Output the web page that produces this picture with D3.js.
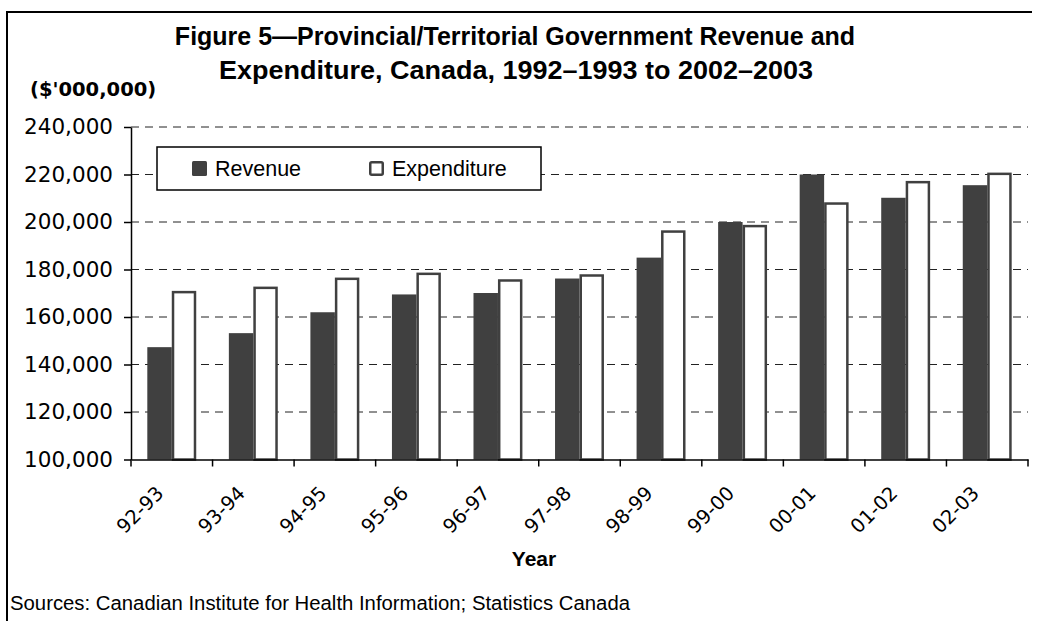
<!DOCTYPE html>
<html>
<head>
<meta charset="utf-8">
<script src="https://cdn.jsdelivr.net/npm/d3@7"></script>
<style>
  html, body { margin: 0; padding: 0; background: #fff; }
  svg { display: block; }
</style>
</head>
<body>
<script>
const categories = ["92-93", "93-94", "94-95", "95-96", "96-97", "97-98", "98-99", "99-00", "00-01", "01-02", "02-03"];
const seriesNames = ["Revenue", "Expenditure"];
const revenue = [147300, 153200, 162000, 169500, 170100, 176200, 185000, 200000, 220000, 210200, 215500];
const expenditure = [171000, 172800, 176600, 178700, 175900, 178000, 196500, 198800, 208300, 217300, 220800];
const yTicks = [100000, 120000, 140000, 160000, 180000, 200000, 220000, 240000];
const titleLines = ["Figure 5\u2014Provincial/Territorial Government Revenue and", "Expenditure, Canada, 1992\u20131993 to 2002\u20132003"];
const unitLabel = "($'000,000)";
const xTitle = "Year";
const sourceText = "Sources: Canadian Institute for Health Information; Statistics Canada";

(function () {
const W = 1037, H = 621;
const pLeft = 131, pRight = 1028, pTop = 127, pBottom = 459.5;
const dark = "#404040";

const svg = d3.select("body").append("svg").attr("width", W).attr("height", H);

// frame
svg.append("path").attr("d", `M7,${H} L7,12 L1032,12`).attr("fill", "none").attr("stroke", "#000").attr("stroke-width", 2);

const x0 = d3.scaleBand().domain(categories).range([pLeft, pRight]).paddingInner(0.4).paddingOuter(0.2);
const x1 = d3.scaleBand().domain(seriesNames).range([0, x0.bandwidth()]);
const y = d3.scaleLinear().domain([100000, 240000]).range([pBottom, pTop]);

// gridlines
svg.append("g").selectAll("line").data(yTicks.filter(d => d !== 100000)).join("line")
  .attr("x1", pLeft).attr("x2", pRight)
  .attr("y1", d => y(d)).attr("y2", d => y(d))
  .attr("stroke", "#222").attr("stroke-width", 1).attr("stroke-dasharray", "8,6");

// bars
const data = categories.map((c, i) => ({ c, values: [{ k: "Revenue", v: revenue[i] }, { k: "Expenditure", v: expenditure[i] }] }));
const groups = svg.append("g").selectAll("g").data(data).join("g")
  .attr("transform", d => `translate(${x0(d.c)},0)`);
groups.selectAll("rect").data(d => d.values).join("rect")
  .attr("x", d => x1(d.k) + (d.k === "Expenditure" ? 1.25 : 0))
  .attr("width", d => x1.bandwidth() - (d.k === "Expenditure" ? 2.5 : 0))
  .attr("y", d => y(d.v) + (d.k === "Expenditure" ? 1.25 : 0))
  .attr("height", d => pBottom - y(d.v) - (d.k === "Expenditure" ? 1.25 : 0))
  .attr("fill", d => d.k === "Revenue" ? dark : "#fff")
  .attr("stroke", d => d.k === "Revenue" ? "none" : dark)
  .attr("stroke-width", 2.5);

// y axis
const yAxis = svg.append("g").attr("transform", `translate(${pLeft},0)`)
  .call(d3.axisLeft(y).tickValues(yTicks).tickSize(7).tickSizeOuter(0).tickPadding(11).tickFormat(d3.format(",")));
yAxis.select(".domain").attr("stroke", "#000").attr("stroke-width", 1.5);
yAxis.selectAll(".tick line").attr("stroke", "#000").attr("stroke-width", 1.5);
yAxis.selectAll("text").attr("font-family", "'DejaVu Sans', sans-serif").attr("font-size", 21.5).attr("fill", "#000");

// x axis
const xAxis = svg.append("g").attr("transform", `translate(0,${pBottom})`)
  .call(d3.axisBottom(x0).tickSize(0).tickSizeOuter(0));
xAxis.select(".domain").attr("stroke", "#000").attr("stroke-width", 1.5);
xAxis.selectAll("text")
  .attr("font-family", "'DejaVu Sans', sans-serif").attr("font-size", 19.5).attr("fill", "#000")
  .attr("text-anchor", "end").attr("x", 0).attr("y", 0).attr("dy", 0)
  .attr("transform", "translate(-7,35) rotate(-45)");
const step = x0.step();
const bounds = categories.map(c => x0(c) - step * x0.paddingInner() / 2).concat([pRight]);
svg.append("g").selectAll("line").data(bounds).join("line")
  .attr("x1", d => d).attr("x2", d => d)
  .attr("y1", pBottom).attr("y2", pBottom + 7)
  .attr("stroke", "#000").attr("stroke-width", 1.5);

// titles
svg.append("text").attr("x", 515).attr("y", 45).attr("text-anchor", "middle")
  .attr("font-family", "'Liberation Sans', Arial, sans-serif").attr("font-weight", "bold").attr("font-size", 25)
  .text(titleLines[0]);
svg.append("text").attr("x", 516).attr("y", 79).attr("text-anchor", "middle")
  .attr("font-family", "'Liberation Sans', Arial, sans-serif").attr("font-weight", "bold").attr("font-size", 25)
  .attr("textLength", 594).attr("lengthAdjust", "spacingAndGlyphs")
  .text(titleLines[1]);
svg.append("text").attr("x", 30).attr("y", 96)
  .attr("font-family", "'DejaVu Sans', sans-serif").attr("font-weight", "bold").attr("font-size", 19.5)
  .text(unitLabel);
svg.append("text").attr("x", 534).attr("y", 566).attr("text-anchor", "middle")
  .attr("font-family", "'Liberation Sans', Arial, sans-serif").attr("font-weight", "bold").attr("font-size", 21)
  .text(xTitle);
svg.append("text").attr("x", 10).attr("y", 610)
  .attr("font-family", "'Liberation Sans', Arial, sans-serif").attr("font-size", 19.5)
  .attr("textLength", 620).attr("lengthAdjust", "spacingAndGlyphs")
  .text(sourceText);

// legend
const lg = svg.append("g");
lg.append("rect").attr("x", 157).attr("y", 147).attr("width", 384).attr("height", 43)
  .attr("fill", "#fff").attr("stroke", "#000").attr("stroke-width", 1.5);
const legendItems = [{ k: "Revenue", x: 192 }, { k: "Expenditure", x: 369 }];
legendItems.forEach(it => {
  if (it.k === "Revenue") {
    lg.append("rect").attr("x", it.x).attr("y", 161).attr("width", 15).attr("height", 15).attr("rx", 1.5)
      .attr("fill", dark);
  } else {
    lg.append("rect").attr("x", it.x + 1.25).attr("y", 162.25).attr("width", 12.5).attr("height", 12.5).attr("rx", 1.5)
      .attr("fill", "#fff").attr("stroke", dark).attr("stroke-width", 2.5);
  }
  lg.append("text").attr("x", it.x + 23).attr("y", 176)
    .attr("font-family", "'Liberation Sans', Arial, sans-serif").attr("font-size", 21.5)
    .text(it.k);
});
})();
</script>
</body>
</html>
